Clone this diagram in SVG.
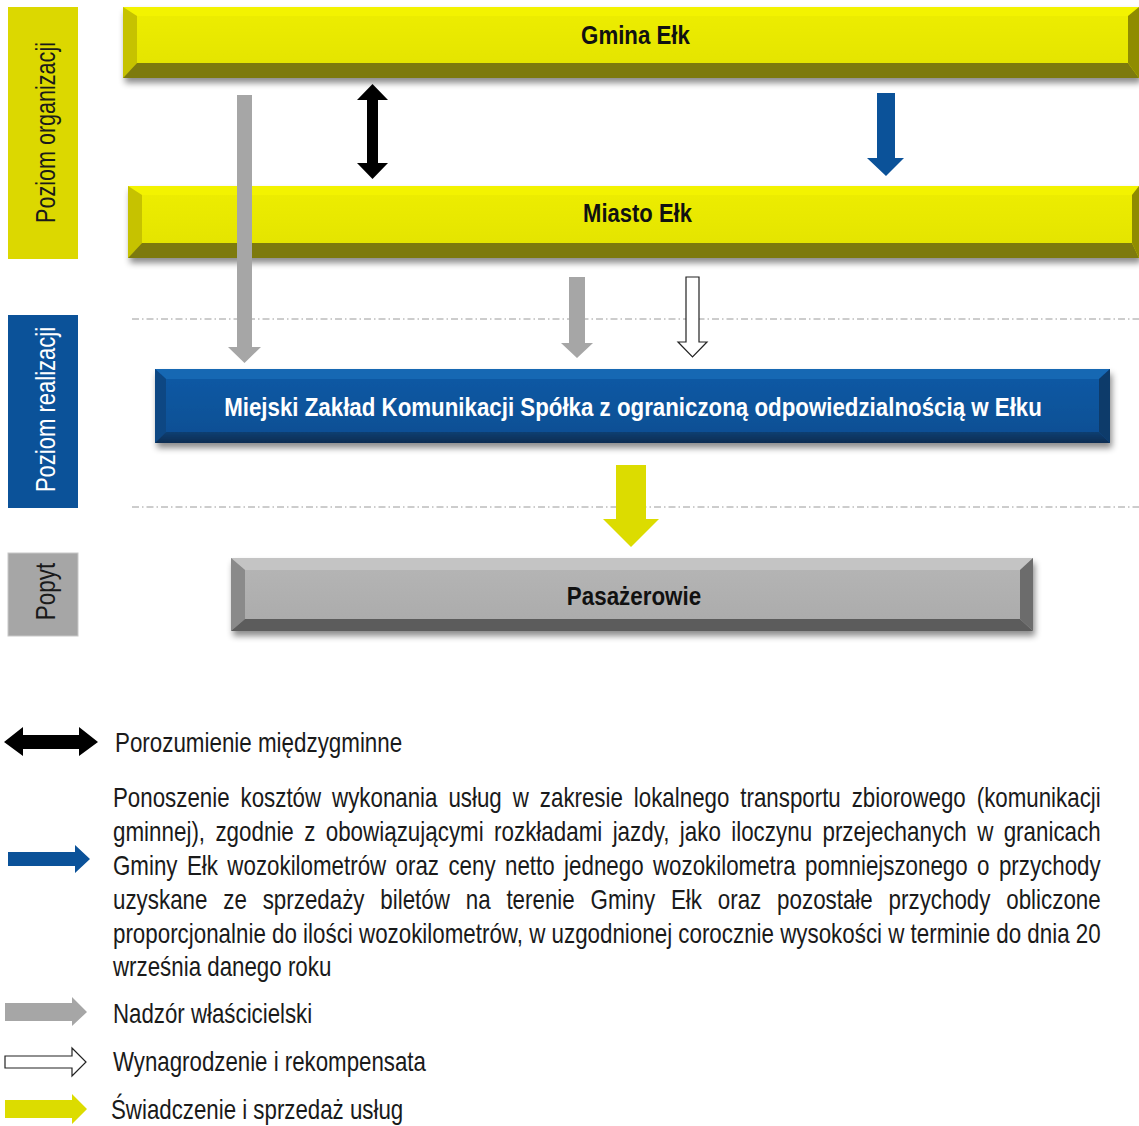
<svg xmlns="http://www.w3.org/2000/svg" width="1139" height="1126" viewBox="0 0 1139 1126">
<defs>
<filter id="sh" x="-5%" y="-30%" width="110%" height="180%">
<feDropShadow dx="2" dy="5" stdDeviation="3" flood-color="#000" flood-opacity="0.45"/>
</filter>
<linearGradient id="gy" x1="0" y1="0" x2="0" y2="1">
<stop offset="0" stop-color="#eeee00"/><stop offset="1" stop-color="#e2e200"/>
</linearGradient>
<linearGradient id="gb" x1="0" y1="0" x2="0" y2="1">
<stop offset="0" stop-color="#0c5aa6"/><stop offset="1" stop-color="#094e92"/>
</linearGradient>
<linearGradient id="gbb" x1="0" y1="0" x2="0" y2="1">
<stop offset="0" stop-color="#0b3f72"/><stop offset="1" stop-color="#0a2d52"/>
</linearGradient>
<linearGradient id="gg" x1="0" y1="0" x2="0" y2="1">
<stop offset="0" stop-color="#b6b6b6"/><stop offset="1" stop-color="#aaaaaa"/>
</linearGradient>
</defs>
<style>
.t{font-family:"Liberation Sans",Arial,sans-serif;font-size:27px;fill:#1a1a1a}
.b{font-family:"Liberation Sans",Arial,sans-serif;font-size:26px;font-weight:bold;fill:#111}
.sep{stroke:#9a9a9a;stroke-width:1;stroke-dasharray:7 3 1.5 3;fill:none}
</style>

<g id="separators">
<line class="sep" x1="132" y1="319" x2="1139" y2="319"/>
<line class="sep" x1="132" y1="507" x2="1139" y2="507"/>
</g>

<g id="label-organizacji">
<rect x="8" y="7" width="70" height="252" fill="#dcd800"/>
<text class="t" transform="translate(55,132.5) rotate(-90) scale(0.83,1)" text-anchor="middle" textLength="218" lengthAdjust="spacingAndGlyphs">Poziom organizacji</text>
</g>
<g id="label-realizacji">
<rect x="8" y="315" width="70" height="193" fill="#0b5299"/>
<text class="t" transform="translate(55,409.5) rotate(-90) scale(0.83,1)" text-anchor="middle" textLength="199" lengthAdjust="spacingAndGlyphs" style="fill:#fff">Poziom realizacji</text>
</g>
<g id="label-popyt">
<rect x="8" y="553" width="70" height="83" fill="#a6a6a6" stroke="#c8c8c8" stroke-width="1"/>
<text class="t" transform="translate(55,591.5) rotate(-90) scale(0.83,1)" text-anchor="middle" textLength="69" lengthAdjust="spacingAndGlyphs">Popyt</text>
</g>

<g id="gmina">
<g filter="url(#sh)">
<rect x="123" y="7" width="1016" height="71" fill="url(#gy)"/>
<polygon points="123,7 1139,7 1128,16 137,16" fill="#f3f300"/>
<polygon points="123,7 137,16 137,63 123,78" fill="#c6c200"/>
<polygon points="123,78 137,63 1128,63 1139,78" fill="#7d7a0d"/>
<polygon points="1139,7 1139,78 1128,63 1128,16" fill="#8f8c00"/>
</g>
<text class="b" transform="translate(635.5,44) scale(0.85,1)" text-anchor="middle" textLength="128" lengthAdjust="spacingAndGlyphs">Gmina Ełk</text>
</g>

<g id="miasto">
<g filter="url(#sh)">
<rect x="128" y="186" width="1011" height="72" fill="url(#gy)"/>
<polygon points="128,186 1139,186 1132,195 142,195" fill="#f3f300"/>
<polygon points="128,186 142,195 142,243 128,258" fill="#c6c200"/>
<polygon points="128,258 142,243 1132,243 1139,258" fill="#7d7a0d"/>
<polygon points="1139,186 1139,258 1132,243 1132,195" fill="#8f8c00"/>
</g>
<text class="b" transform="translate(637.5,222) scale(0.85,1)" text-anchor="middle" textLength="128" lengthAdjust="spacingAndGlyphs">Miasto Ełk</text>
</g>

<g id="mzk">
<g filter="url(#sh)">
<rect x="155" y="369" width="955" height="74" fill="url(#gb)"/>
<polygon points="155,369 1110,369 1099,379 166,379" fill="#1767b3"/>
<polygon points="155,369 166,379 166,432 155,443" fill="#0a4783"/>
<polygon points="155,443 166,432 1099,432 1110,443" fill="url(#gbb)"/>
<polygon points="1110,369 1110,443 1099,432 1099,379" fill="#0b3a6b"/>
</g>
<text class="b" transform="translate(633,416) scale(0.85,1)" text-anchor="middle" textLength="962" lengthAdjust="spacingAndGlyphs" style="fill:#fff">Miejski Zakład Komunikacji Spółka z ograniczoną odpowiedzialnością w Ełku</text>
</g>

<g id="pasazerowie">
<g filter="url(#sh)">
<rect x="231" y="558" width="802" height="73" fill="url(#gg)"/>
<polygon points="231,558 1033,558 1020,570 245,570" fill="#c4c4c4"/>
<polygon points="231,558 245,570 245,619 231,631" fill="#8a8a8a"/>
<polygon points="231,631 245,619 1020,619 1033,631" fill="#5c5c5c"/>
<polygon points="1033,558 1033,631 1020,619 1020,570" fill="#6c6c6c"/>
</g>
<text class="b" transform="translate(634,605) scale(0.85,1)" text-anchor="middle" textLength="158" lengthAdjust="spacingAndGlyphs">Pasażerowie</text>
</g>

<g id="connectors">
<polygon points="237,95 252,95 252,347 261,347 244.5,363 228,347 237,347" fill="#a6a6a6"/>
<polygon points="372.5,84 388,100 378,100 378,163 388,163 372.5,179 357,163 367,163 367,100 357,100" fill="#000"/>
<polygon points="877,93 895,93 895,158 904,158 886,176 867,158 877,158" fill="#0b5299"/>
<polygon points="569,277 585,277 585,343 593,343 577,358 561,343 569,343" fill="#a6a6a6"/>
<polygon points="686,277 699,277 699,342 707,342 692.5,357 678,342 686,342" fill="#fff" stroke="#222" stroke-width="1.2"/>
<polygon points="616,465 646,465 646,519 659,519 631,547 603,519 616,519" fill="#dcdc00"/>
</g>

<g id="legend">
<polygon points="4,742 23,727 23,735 79,735 79,727 98,742 79,756 79,749 23,749 23,756" fill="#000"/>
<text class="t" transform="translate(115,752) scale(0.83,1)" textLength="346" lengthAdjust="spacingAndGlyphs">Porozumienie międzygminne</text>

<polygon points="8,852 75,852 75,845 90,859 75,873 75,866 8,866" fill="#0b5299"/>
<text class="t" transform="translate(113,807) scale(0.83,1)" textLength="1190" lengthAdjust="spacingAndGlyphs" style="word-spacing:5.8px">Ponoszenie kosztów wykonania usług w zakresie lokalnego transportu zbiorowego (komunikacji</text>
<text class="t" transform="translate(113,841) scale(0.83,1)" textLength="1190" lengthAdjust="spacingAndGlyphs" style="word-spacing:5px">gminnej), zgodnie z obowiązującymi rozkładami jazdy, jako iloczynu przejechanych w granicach</text>
<text class="t" transform="translate(113,875) scale(0.83,1)" textLength="1190" lengthAdjust="spacingAndGlyphs" style="word-spacing:3.9px">Gminy Ełk wozokilometrów oraz ceny netto jednego wozokilometra pomniejszonego o przychody</text>
<text class="t" transform="translate(113,909) scale(0.83,1)" textLength="1190" lengthAdjust="spacingAndGlyphs" style="word-spacing:11.6px">uzyskane ze sprzedaży biletów na terenie Gminy Ełk oraz pozostałe przychody obliczone</text>
<text class="t" transform="translate(113,943) scale(0.83,1)" textLength="1190" lengthAdjust="spacingAndGlyphs">proporcjonalnie do ilości wozokilometrów, w uzgodnionej corocznie wysokości w terminie do dnia 20</text>
<text class="t" transform="translate(113,976) scale(0.83,1)" textLength="263" lengthAdjust="spacingAndGlyphs">września danego roku</text>

<polygon points="5,1003 72,1003 72,997 87,1012 72,1026 72,1021 5,1021" fill="#a6a6a6"/>
<text class="t" transform="translate(113,1023) scale(0.83,1)" textLength="240" lengthAdjust="spacingAndGlyphs">Nadzór właścicielski</text>

<polygon points="5,1056 72,1056 72,1048 86,1062 72,1076 72,1068 5,1068" fill="#fff" stroke="#222" stroke-width="1.2"/>
<text class="t" transform="translate(113,1071) scale(0.83,1)" textLength="377" lengthAdjust="spacingAndGlyphs">Wynagrodzenie i rekompensata</text>

<polygon points="5,1100 72,1100 72,1094 87,1109 72,1124 72,1118 5,1118" fill="#dcdc00"/>
<text class="t" transform="translate(111,1119) scale(0.83,1)" textLength="352" lengthAdjust="spacingAndGlyphs">Świadczenie i sprzedaż usług</text>
</g>
</svg>
